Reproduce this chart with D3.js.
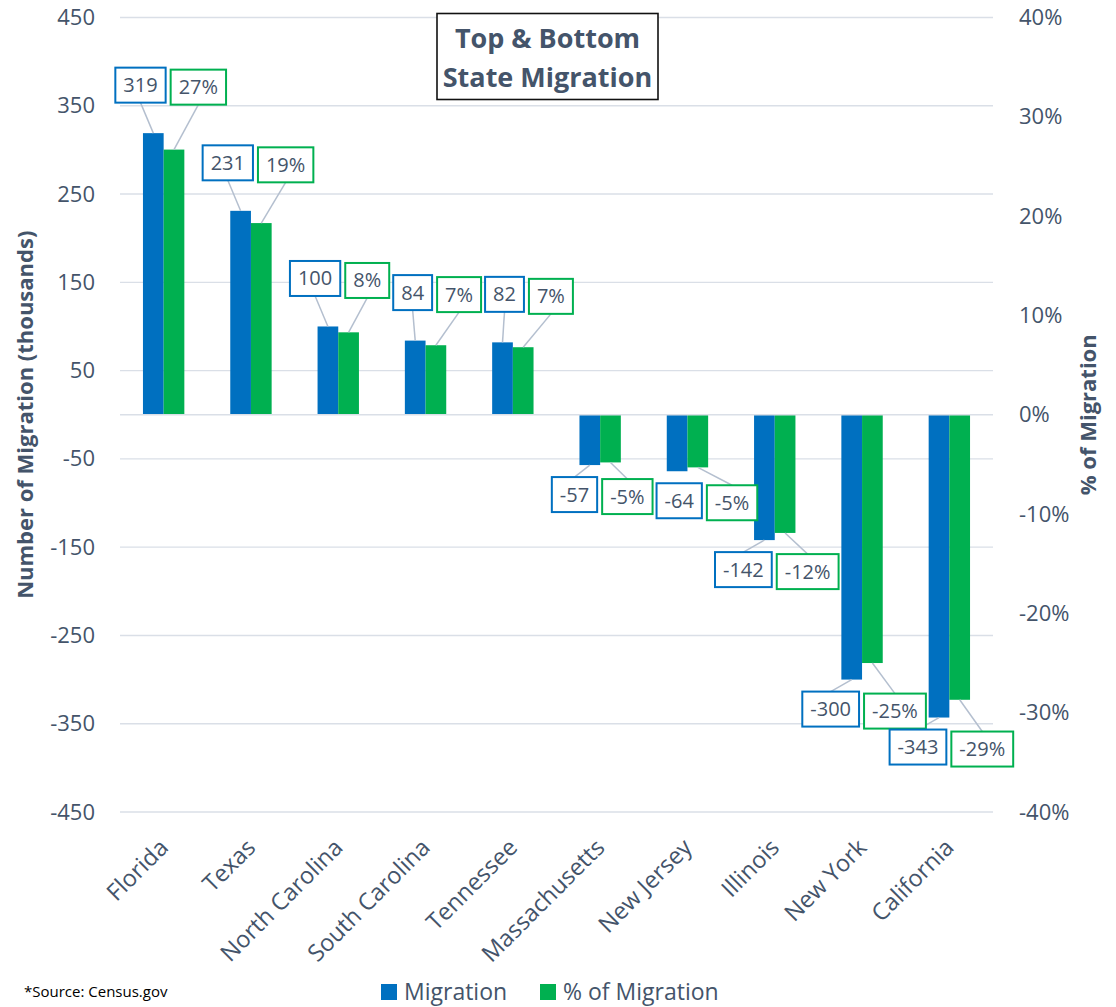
<!DOCTYPE html>
<html>
<head>
<meta charset="utf-8">
<script src="https://cdn.jsdelivr.net/npm/d3@7"></script>
<style>
  body { margin: 0; background: #fff; }
  text { font-family: 'Open Sans', sans-serif; }
</style>
</head>
<body>
<svg id="chart"></svg>
<script>
// datos del grafico
const states = ['Florida', 'Texas', 'North Carolina', 'South Carolina', 'Tennessee',
  'Massachusetts', 'New Jersey', 'Illinois', 'New York', 'California'];
const migration = [319, 231, 100, 84, 82, -57, -64, -142, -300, -343];
const pctMigration = [0.267, 0.193, 0.083, 0.070, 0.068, -0.048, -0.053, -0.119, -0.250, -0.287];
const leftTicks = [-450, -350, -250, -150, -50, 50, 150, 250, 350, 450];
const rightTicks = [-0.4, -0.3, -0.2, -0.1, 0, 0.1, 0.2, 0.3, 0.4];
const seriesNames = ['Migration', '% of Migration'];

// dimensiones
const width = 1116;
const height = 1007;
const plot = { left: 120, right: 993, top: 17.5, bottom: 812 };

const textColor = '#44546a';
const blue = '#0070c0';
const green = '#00b050';
const gridColor = '#dadfe7';
const leaderColor = '#b4bfcf';

const svg = d3.select('#chart')
  .attr('width', width)
  .attr('height', height);

svg.append('rect').attr('width', width).attr('height', height).attr('fill', '#fff');

// escalas
const x = d3.scaleBand()
  .domain(states)
  .range([plot.left, plot.right])
  .paddingInner(0.526)
  .paddingOuter(0.263);

const xSub = d3.scaleBand()
  .domain(['m', 'p'])
  .range([0, x.bandwidth()]);

const yLeft = d3.scaleLinear().domain([-450, 450]).range([plot.bottom, plot.top]);
const yRight = d3.scaleLinear().domain([-0.4, 0.4]).range([plot.bottom, plot.top]);

const fmtPct = d => Math.round(d * 100) + '%';

// lineas de cuadricula
svg.append('g')
  .selectAll('line')
  .data(leftTicks)
  .enter().append('line')
  .attr('x1', plot.left).attr('x2', plot.right)
  .attr('y1', d => yLeft(d)).attr('y2', d => yLeft(d))
  .attr('stroke', gridColor)
  .attr('stroke-width', 1.4);

// eje izquierdo
const leftAxis = svg.append('g')
  .attr('transform', `translate(${plot.left},0)`)
  .call(d3.axisLeft(yLeft).tickValues(leftTicks).tickSize(0).tickPadding(25).tickFormat(d => String(d)));
leftAxis.select('.domain').remove();
leftAxis.selectAll('text')
  .attr('fill', textColor)
  .style('font-size', '22px')
  .style('font-family', "'Open Sans', sans-serif");

// eje derecho
const rightAxis = svg.append('g')
  .attr('transform', `translate(${plot.right},0)`)
  .call(d3.axisRight(yRight).tickValues(rightTicks).tickSize(0).tickPadding(26).tickFormat(fmtPct));
rightAxis.select('.domain').remove();
rightAxis.selectAll('text')
  .attr('fill', textColor)
  .style('font-size', '22px')
  .style('font-family', "'Open Sans', sans-serif");

// barras
const groups = svg.append('g')
  .selectAll('g')
  .data(states)
  .enter().append('g')
  .attr('transform', d => `translate(${x(d)},0)`);

groups.append('rect')
  .attr('x', xSub('m'))
  .attr('width', xSub.bandwidth())
  .attr('y', (d, i) => Math.min(yLeft(migration[i]), yLeft(0)))
  .attr('height', (d, i) => Math.abs(yLeft(migration[i]) - yLeft(0)))
  .attr('fill', blue);

groups.append('rect')
  .attr('x', xSub('p'))
  .attr('width', xSub.bandwidth())
  .attr('y', (d, i) => Math.min(yRight(pctMigration[i]), yRight(0)))
  .attr('height', (d, i) => Math.abs(yRight(pctMigration[i]) - yRight(0)))
  .attr('fill', green);

// linea cero
svg.append('line')
  .attr('x1', plot.left).attr('x2', plot.right)
  .attr('y1', yLeft(0)).attr('y2', yLeft(0))
  .attr('stroke', gridColor)
  .attr('stroke-width', 1.6);

// etiquetas de datos con cajas y lineas guia
const labelLayer = svg.append('g');
const lineLayer = labelLayer.append('g');
const boxLayer = labelLayer.append('g');
const boxH = 35;
const placed = [];

const overlaps = (a, b) =>
  a.x0 < b.x0 + b.w && b.x0 < a.x0 + a.w &&
  a.cy - boxH / 2 < b.cy + boxH / 2 && b.cy - boxH / 2 < a.cy + boxH / 2;

states.forEach((s, i) => {
  const c = x(s) + x.bandwidth() / 2;
  const pos = migration[i] >= 0;
  const yb = yLeft(migration[i]);
  const yg = yRight(pctMigration[i]);
  const items = [
    { txt: String(migration[i]), color: blue, barX: x(s) + xSub('m') + xSub.bandwidth() / 2, barY: yb },
    { txt: fmtPct(pctMigration[i]), color: green, barX: x(s) + xSub('p') + xSub.bandwidth() / 2, barY: yg }
  ];
  // medir textos
  items.forEach(it => {
    const t = boxLayer.append('text')
      .style('font-size', '20px')
      .text(it.txt);
    it.w = t.node().getComputedTextLength() + 16;
    t.remove();
  });
  let blueRight, greenLeft, cy;
  if (pos) {
    blueRight = c + 2;
    greenLeft = c + 7;
    cy = yb - 48;
  } else {
    blueRight = c - 3;
    greenLeft = c + 2;
    cy = yb + 12 + boxH / 2;
  }
  items[0].x0 = blueRight - items[0].w;
  items[0].cy = cy;
  items[1].x0 = greenLeft;
  items[1].cy = cy + 2;

  // evitar solapes con las etiquetas anteriores
  placed.forEach(p => {
    if (overlaps(items[0], p)) {
      const shift = p.x0 + p.w + 4 - items[0].x0;
      items.forEach(it => { it.x0 += shift; });
    }
  });
  items.forEach(it => placed.push(it));

  items.forEach(it => {
    const bx = it.x0 + it.w / 2;
    const by = pos ? it.cy + boxH / 2 : it.cy - boxH / 2;
    if (Math.hypot(bx - it.barX, by - it.barY) > 14) {
      lineLayer.append('line')
        .attr('x1', bx).attr('y1', by)
        .attr('x2', it.barX).attr('y2', it.barY)
        .attr('stroke', leaderColor)
        .attr('stroke-width', 1.5);
    }
    boxLayer.append('rect')
      .attr('x', it.x0).attr('y', it.cy - boxH / 2)
      .attr('width', it.w).attr('height', boxH)
      .attr('fill', '#fff')
      .attr('stroke', it.color)
      .attr('stroke-width', 2);
    boxLayer.append('text')
      .attr('x', it.x0 + it.w / 2)
      .attr('y', it.cy)
      .attr('dy', '0.35em')
      .attr('text-anchor', 'middle')
      .attr('fill', textColor)
      .style('font-size', '20px')
      .text(it.txt);
  });
});

// etiquetas de categorias
svg.append('g')
  .selectAll('text')
  .data(states)
  .enter().append('text')
  .attr('transform', d => `translate(${x(d) + x.bandwidth() / 2 + 6},849) rotate(-45)`)
  .attr('text-anchor', 'end')
  .attr('fill', textColor)
  .style('font-size', '23.5px')
  .text(d => d);

// titulos de ejes
svg.append('text')
  .attr('transform', `translate(33,${yLeft(0)}) rotate(-90)`)
  .attr('text-anchor', 'middle')
  .attr('fill', textColor)
  .style('font-size', '22px')
  .style('font-weight', 'bold')
  .text('Number of Migration (thousands)');

svg.append('text')
  .attr('transform', `translate(1096,${yLeft(0)}) rotate(-90)`)
  .attr('text-anchor', 'middle')
  .attr('fill', textColor)
  .style('font-size', '22px')
  .style('font-weight', 'bold')
  .text('% of Migration');

// titulo
svg.append('rect')
  .attr('x', 437).attr('y', 13.5)
  .attr('width', 221).attr('height', 86)
  .attr('fill', '#fff')
  .attr('stroke', '#111')
  .attr('stroke-width', 1.6);

svg.append('text')
  .attr('x', 547.5).attr('y', 48)
  .attr('text-anchor', 'middle')
  .attr('fill', textColor)
  .style('font-size', '27px')
  .style('font-weight', 'bold')
  .text('Top & Bottom');

svg.append('text')
  .attr('x', 547.5).attr('y', 87)
  .attr('text-anchor', 'middle')
  .attr('fill', textColor)
  .style('font-size', '27px')
  .style('font-weight', 'bold')
  .text('State Migration');

// leyenda
const legend = svg.append('g');
const legendX = [381, 540];
[blue, green].forEach((col, i) => {
  legend.append('rect')
    .attr('x', legendX[i]).attr('y', 984)
    .attr('width', 16).attr('height', 16)
    .attr('fill', col);
  legend.append('text')
    .attr('x', legendX[i] + 23).attr('y', 1000)
    .attr('fill', textColor)
    .style('font-size', '23px')
    .text(seriesNames[i]);
});

// fuente
svg.append('text')
  .attr('x', 24).attr('y', 997)
  .attr('fill', '#000')
  .style('font-size', '15px')
  .text('*Source: Census.gov');
</script>
</body>
</html>
